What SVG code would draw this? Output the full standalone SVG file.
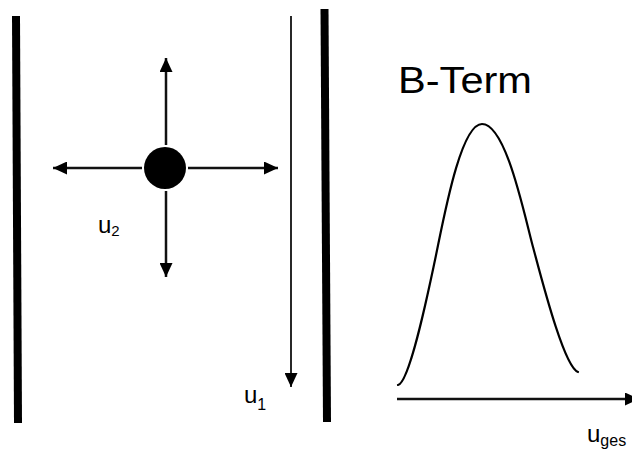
<svg xmlns="http://www.w3.org/2000/svg" width="632" height="452" viewBox="0 0 632 452">
<defs>
<style>
.wall{stroke:#000;stroke-width:8;fill:none}
.conn{stroke:#111;fill:none}
.lbl{font-family:"Liberation Sans",Arial,sans-serif;fill:#000}
.curve{stroke:#000;stroke-width:2.2;fill:none;stroke-linecap:round}
</style>
<marker id="ah" markerUnits="userSpaceOnUse" markerWidth="14" markerHeight="13" refX="14" refY="6.5" orient="auto">
<path d="M0,0 L14,6.5 L0,13 z" fill="#000"/>
</marker>
</defs>
<rect width="632" height="452" fill="#fff"/>
<g id="wall-left"><line class="wall" x1="16" y1="16" x2="18" y2="423"/></g>
<g id="wall-right"><line class="wall" x1="324.5" y1="9" x2="327" y2="422"/></g>
<g id="particle"><circle cx="165" cy="168" r="21" fill="#000"/></g>
<g id="connectors">
<line class="conn" stroke-width="2.5" x1="166" y1="145" x2="166" y2="58" marker-end="url(#ah)"/>
<line class="conn" stroke-width="2.5" x1="166" y1="191" x2="166" y2="277" marker-end="url(#ah)"/>
<line class="conn" stroke-width="2.5" x1="142" y1="168" x2="53" y2="168" marker-end="url(#ah)"/>
<line class="conn" stroke-width="2.5" x1="188" y1="168" x2="278" y2="168" marker-end="url(#ah)"/>
<line class="conn" stroke-width="1.8" x1="291" y1="16" x2="291" y2="387" marker-end="url(#ah)"/>
<line class="conn" stroke-width="2.5" x1="397" y1="399" x2="639" y2="399" marker-end="url(#ah)"/>
</g>
<g id="label-u2"><text class="lbl" x="98" y="233" font-size="24">u<tspan font-size="15" dy="3">2</tspan></text></g>
<g id="label-u1"><text class="lbl" x="244" y="403" font-size="24">u<tspan font-size="16" dy="7">1</tspan></text></g>
<g id="label-uges"><text class="lbl" x="587" y="442" font-size="24">u<tspan font-size="16" dy="4">ges</tspan></text></g>
<g id="title"><text class="lbl" x="398" y="93" font-size="36" textLength="134" lengthAdjust="spacingAndGlyphs">B-Term</text></g>
<g id="b-term-curve"><path class="curve" d="M398,385 C410,382 429,288 435,260 C443,222.4 460,124 482,124 C506,124 524,213.7 533,247 C542,280.3 564,367 578,372"/></g>
</svg>
